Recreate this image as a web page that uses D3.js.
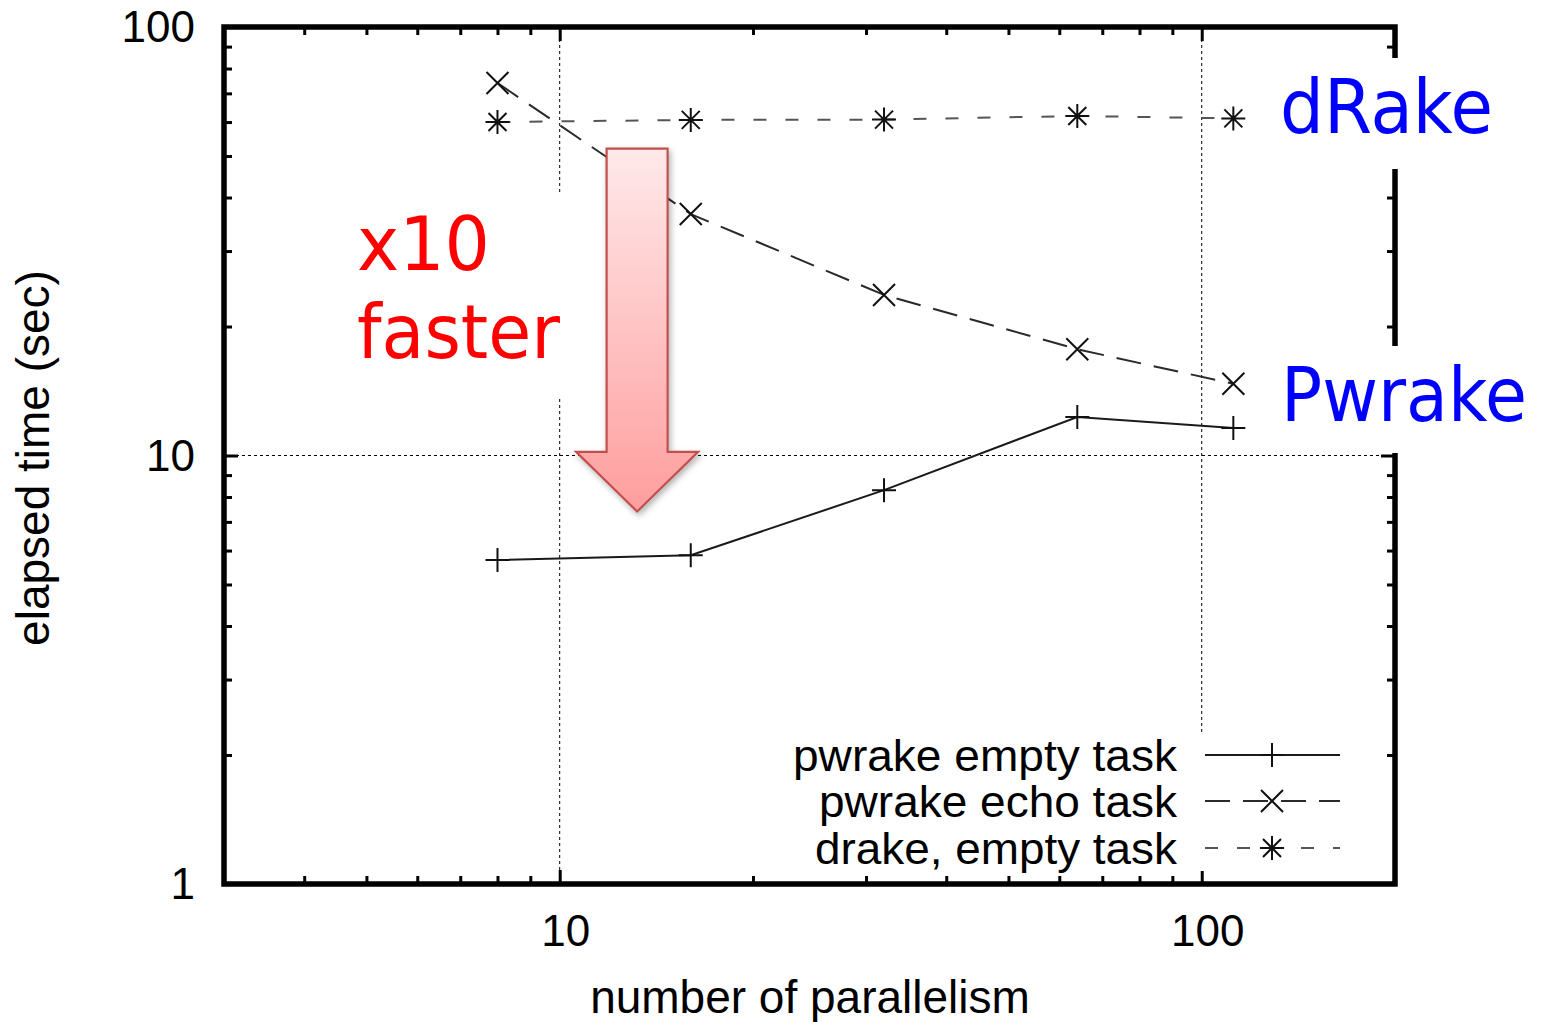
<!DOCTYPE html>
<html><head><meta charset="utf-8">
<script src="https://cdn.jsdelivr.net/npm/d3@7"></script>
<style>body{margin:0;background:#fff}svg{display:block}</style>
</head><body>
<svg id="chart" width="1546" height="1022"></svg>
<script>
// ---- data ----
const parallelism = [8, 16, 32, 64, 112];
const pwrakeEmpty = [5.7, 5.85, 8.3, 12.3, 11.6];
const pwrakeEcho  = [74, 36.6, 23.7, 17.7, 14.7];
const drakeEmpty  = [60, 60.7, 60.8, 62, 61.2];
const seriesNames = ["pwrake empty task", "pwrake echo task", "drake, empty task"];
const xTickLabels = [10, 100];
const yTickLabels = [1, 10, 100];
const xMinorTicks = [4, 5, 6, 7, 8, 9, 20, 30, 40, 50, 60, 70, 80, 90];
const yMinorTicks = [2, 3, 4, 5, 6, 7, 8, 9, 20, 30, 40, 50, 60, 70, 80, 90];
const xLabel = "number of parallelism";
const yLabel = "elapsed time (sec)";

// ---- setup ----
const svg = d3.select("#chart");
const L = 224, R = 1395, T = 27, B = 884;
const x = d3.scaleLog().domain([3, 200]).range([L, R]);
const y = d3.scaleLog().domain([1, 100]).range([B, T]);
const AX = "'Liberation Sans', Arial, sans-serif";
const HUM = "'DejaVu Sans', 'Open Sans', sans-serif";

// gradient + shadow
const defs = svg.append("defs");
const grad = defs.append("linearGradient").attr("id", "ag").attr("x1", 0).attr("y1", 0).attr("x2", 0).attr("y2", 1);
grad.append("stop").attr("offset", "0%").attr("stop-color", "#ffe9ea");
grad.append("stop").attr("offset", "100%").attr("stop-color", "#ff9d9d");
const f = defs.append("filter").attr("id", "sh").attr("x", "-30%").attr("y", "-10%").attr("width", "160%").attr("height", "130%");
f.append("feDropShadow").attr("dx", 2).attr("dy", 3).attr("stdDeviation", 3).attr("flood-color", "#000").attr("flood-opacity", 0.3);

// grid
const grid = svg.append("g").attr("stroke", "#000").attr("stroke-width", 1).attr("stroke-dasharray", "3,3");
xTickLabels.forEach(v => grid.append("line").attr("x1", x(v)).attr("x2", x(v)).attr("y1", y(100)).attr("y2", y(1)));
grid.append("line").attr("x1", x(3)).attr("x2", x(200)).attr("y1", y(10)).attr("y2", y(10));

// ticks on four sides via d3 axes
function ticks(axisFn, scale, vals, size, tr) {
  const g = svg.append("g").attr("transform", tr)
    .call(axisFn(scale).tickValues(vals).tickSize(-size).tickFormat(""));
  g.select(".domain").remove();
  g.selectAll("line").attr("stroke", "#000").attr("stroke-width", 3);
}
ticks(d3.axisBottom, x, xMinorTicks, 8, `translate(0,${B})`);
ticks(d3.axisBottom, x, xTickLabels, 14, `translate(0,${B})`);
ticks(d3.axisTop, x, xMinorTicks, 8, `translate(0,${T})`);
ticks(d3.axisTop, x, xTickLabels, 14, `translate(0,${T})`);
ticks(d3.axisLeft, y, yMinorTicks, 8, `translate(${L},0)`);
ticks(d3.axisLeft, y, [10], 14, `translate(${L},0)`);
ticks(d3.axisRight, y, yMinorTicks, 8, `translate(${R},0)`);
ticks(d3.axisRight, y, [10], 14, `translate(${R},0)`);

// frame
svg.append("rect").attr("x", L).attr("y", T).attr("width", R - L).attr("height", B - T)
  .attr("fill", "none").attr("stroke", "#000").attr("stroke-width", 5.5);

// white label boxes (hide grid/frame behind annotations)
const boxes = [[350, 193, 222, 204], [1262, 58, 260, 111], [1262, 346, 284, 107], [785, 733, 565, 138]];
boxes.forEach(b => svg.append("rect").attr("x", b[0]).attr("y", b[1]).attr("width", b[2]).attr("height", b[3]).attr("fill", "#fff"));

// series
const sym = {
  plus: "M-12,0H12M0,-12V12",
  cross: "M-11,-11L11,11M-11,11L11,-11",
  star: "M-12,0H12M0,-12V12M-9,-9L9,9M-9,9L9,-9"
};
const series = [
  { name: seriesNames[0], vals: pwrakeEmpty, dash: null, color: "#1a1a1a", sym: sym.plus },
  { name: seriesNames[1], vals: pwrakeEcho, dash: "25,13", color: "#2a2a2a", sym: sym.cross },
  { name: seriesNames[2], vals: drakeEmpty, dash: "13,19", color: "#555", sym: sym.star }
];
const line = d3.line().x(d => x(d[0])).y(d => y(d[1]));
series.forEach(s => {
  const pts = parallelism.map((p, i) => [p, s.vals[i]]);
  svg.append("path").attr("d", line(pts)).attr("fill", "none").attr("stroke", s.color)
    .attr("stroke-width", 2).attr("stroke-dasharray", s.dash);
  svg.append("g").selectAll("path").data(pts).join("path")
    .attr("transform", d => `translate(${x(d[0])},${y(d[1])})`)
    .attr("d", s.sym).attr("stroke", "#111").attr("stroke-width", 2).attr("fill", "none");
});

// legend
const legRows = [755, 801, 848];
series.forEach((s, i) => {
  const ry = legRows[i];
  svg.append("text").attr("x", 1177).attr("y", ry + 16).attr("text-anchor", "end")
    .attr("font-family", AX).attr("font-size", 45).attr("fill", "#000")
    .attr("textLength", [384, 358, 362][i]).attr("lengthAdjust", "spacingAndGlyphs").text(s.name);
  svg.append("line").attr("x1", 1205).attr("x2", 1340).attr("y1", ry).attr("y2", ry)
    .attr("stroke", s.color).attr("stroke-width", 2).attr("stroke-dasharray", s.dash);
  svg.append("path").attr("transform", `translate(1272,${ry})`).attr("d", s.sym)
    .attr("stroke", "#111").attr("stroke-width", 2).attr("fill", "none");
});

// arrow annotation (in data coordinates)
const arrowX = 13.2, arrowTop = 52, arrowHeadBase = 10.2, arrowTip = 7.4;
const ax = x(arrowX), sw = 30.5, hw = 61;
const ap = [[ax - sw, y(arrowTop)], [ax + sw, y(arrowTop)], [ax + sw, y(arrowHeadBase)], [ax + hw, y(arrowHeadBase)],
  [ax, y(arrowTip)], [ax - hw, y(arrowHeadBase)], [ax - sw, y(arrowHeadBase)]];
svg.append("path").attr("d", "M" + ap.map(p => p.join(",")).join("L") + "Z")
  .attr("fill", "url(#ag)").attr("stroke", "#c0504d").attr("stroke-width", 2.2).attr("filter", "url(#sh)");

// tick labels
yTickLabels.forEach(v => svg.append("text").attr("x", 195).attr("y", y(v) + 15).attr("text-anchor", "end")
  .attr("font-family", AX).attr("font-size", 44).attr("fill", "#000").text(v));
xTickLabels.forEach(v => svg.append("text").attr("x", x(v) + 6).attr("y", 946).attr("text-anchor", "middle")
  .attr("font-family", AX).attr("font-size", 44).attr("fill", "#000").text(v));

// axis titles
svg.append("text").attr("x", 810).attr("y", 1013).attr("text-anchor", "middle")
  .attr("font-family", AX).attr("font-size", 46).attr("fill", "#000").text(xLabel);
svg.append("text").attr("transform", "translate(49,458) rotate(-90)").attr("text-anchor", "middle")
  .attr("font-family", AX).attr("font-size", 46).attr("fill", "#000").text(yLabel);

// annotations (horizontally scaled to match reference widths)
const ann = [
  { t: "dRake", x: 1280, y: 133, c: "#0000ff", len: 213 },
  { t: "Pwrake", x: 1281, y: 421, c: "#0000ff", len: 246 },
  { t: "x10", x: 357, y: 270, c: "#ff0000", len: 133 },
  { t: "faster", x: 357, y: 358, c: "#ff0000", len: 203 }
];
ann.forEach(a => {
  const t = svg.append("text").attr("x", 0).attr("y", 0).attr("font-family", HUM)
    .attr("font-size", 75).attr("fill", a.c).text(a.t);
  const w = t.node().getComputedTextLength();
  t.attr("transform", `translate(${a.x},${a.y}) scale(${a.len / w},1)`);
});
</script>
</body></html>
